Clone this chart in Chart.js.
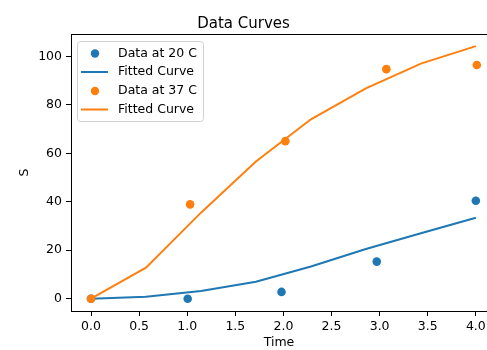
<!DOCTYPE html>
<html>
<head>
<meta charset="utf-8">
<script src="https://cdn.jsdelivr.net/npm/chart.js@4/dist/chart.umd.min.js"></script>
<style>
  html, body { margin: 0; padding: 0; background: #fff; }
  #wrap { width: 487px; height: 350px; }
</style>
</head>
<body>
<div id="wrap"><canvas id="curves"></canvas></div>
<script>
// measured data
const time20 = [0, 1.005, 1.98, 2.97, 4.0];
const data20 = [0, 0, 2.8, 15.3, 40.4];
const time37 = [0, 1.03, 2.02, 3.07, 4.01];
const data37 = [0, 38.9, 65, 94.7, 96.4];
const fitTime = [0, 0.571, 1.143, 1.714, 2.286, 2.857, 3.429, 4.0];
const fit20 = [0, 0.8, 3.2, 7.0, 13.3, 20.5, 27, 33.4];
const fit37 = [0, 12.8, 35.5, 56.6, 74, 86.8, 97, 104.2];
const xTicks = [0, 0.5, 1, 1.5, 2, 2.5, 3, 3.5, 4];
const yTicks = [0, 20, 40, 60, 80, 100];

const blue = '#1f77b4';
const orange = '#ff7f0e';
const fontFamily = '"DejaVu Sans", sans-serif';

function pairs(xs, ys) {
    return xs.map((x, i) => ({x: x, y: ys[i]}));
}

// top spine (matplotlib draws all four sides)
const frame = {
    id: 'frame',
    afterDraw(chart) {
        const ctx = chart.ctx;
        const a = chart.chartArea;
        ctx.save();
        ctx.strokeStyle = '#000';
        ctx.lineWidth = 1;
        ctx.beginPath();
        ctx.moveTo(a.left, a.top + 0.5);
        ctx.lineTo(a.right, a.top + 0.5);
        ctx.stroke();
        ctx.restore();
    }
};

// matplotlib-like legend box in the upper left
const boxLegend = {
    id: 'boxLegend',
    afterDraw(chart) {
        const ctx = chart.ctx;
        const a = chart.chartArea;
        const x0 = a.left + 6, y0 = a.top + 7;
        const w = 126, h = 80;
        ctx.save();
        ctx.fillStyle = 'rgba(255,255,255,0.8)';
        ctx.strokeStyle = '#d0d0d0';
        ctx.lineWidth = 1;
        ctx.beginPath();
        ctx.roundRect(x0 + 0.5, y0 + 0.5, w, h, 3);
        ctx.fill();
        ctx.stroke();
        ctx.font = '12.5px ' + fontFamily;
        ctx.textBaseline = 'middle';
        const rows = [12.5, 31, 50, 68.5];
        chart.data.datasets.forEach((ds, i) => {
            const cy = y0 + rows[i];
            if (ds.showLine) {
                ctx.strokeStyle = ds.borderColor;
                ctx.lineWidth = 2;
                ctx.beginPath();
                ctx.moveTo(x0 + 4, cy);
                ctx.lineTo(x0 + 31, cy);
                ctx.stroke();
            } else {
                ctx.fillStyle = ds.backgroundColor;
                ctx.beginPath();
                ctx.arc(x0 + 18, cy, 4.2, 0, Math.PI * 2);
                ctx.fill();
            }
            ctx.fillStyle = '#000';
            ctx.fillText(ds.label, x0 + 41, cy);
        });
        ctx.restore();
    }
};

const ctx = document.getElementById('curves');

new Chart(ctx, {
    type: 'scatter',
    data: {
        datasets: [
            {
                label: 'Data at 20 C',
                data: pairs(time20, data20),
                backgroundColor: blue,
                borderColor: blue,
                pointRadius: 4.3,
                pointBorderWidth: 0,
                order: 4
            },
            {
                label: 'Fitted Curve',
                data: pairs(fitTime, fit20),
                showLine: true,
                borderColor: blue,
                backgroundColor: blue,
                borderWidth: 2,
                pointRadius: 0,
                tension: 0,
                order: 3
            },
            {
                label: 'Data at 37 C',
                data: pairs(time37, data37),
                backgroundColor: orange,
                borderColor: orange,
                pointRadius: 4.3,
                pointBorderWidth: 0,
                order: 2
            },
            {
                label: 'Fitted Curve',
                data: pairs(fitTime, fit37),
                showLine: true,
                borderColor: orange,
                backgroundColor: orange,
                borderWidth: 2,
                pointRadius: 0,
                tension: 0,
                order: 1
            }
        ]
    },
    options: {
        responsive: true,
        maintainAspectRatio: false,
        animation: false,
        layout: { autoPadding: false, padding: { left: 0, right: 0, top: 0, bottom: 0 } },
        plugins: {
            legend: { display: false },
            tooltip: { enabled: false },
            title: {
                display: true,
                text: 'Data Curves',
                color: '#000',
                font: { family: fontFamily, size: 15, weight: 'normal' },
                padding: { top: 15, bottom: 1 }
            }
        },
        scales: {
            x: {
                type: 'linear',
                min: -0.208,
                max: 4.116,
                afterFit: function(scale) {
                    scale.height = 39;
                    scale.paddingLeft = 0;
                    scale.paddingRight = 0;
                },
                afterBuildTicks: function(scale) {
                    scale.ticks = xTicks.map(v => ({value: v}));
                },
                grid: { drawOnChartArea: false, drawTicks: true, tickLength: 5, color: '#000' },
                border: { display: true, color: '#000', width: 1 },
                ticks: {
                    color: '#000',
                    padding: 3,
                    maxRotation: 0,
                    font: { family: fontFamily, size: 12.5 },
                    callback: function(value) { return value.toFixed(1); }
                },
                title: {
                    display: true,
                    text: 'Time',
                    color: '#000',
                    font: { family: fontFamily, size: 12.5 },
                    padding: { top: 0, bottom: 0 }
                }
            },
            y: {
                type: 'linear',
                min: -5.07,
                max: 109.2,
                afterFit: function(scale) {
                    scale.width = 71;
                    scale.paddingTop = 0;
                    scale.paddingBottom = 0;
                },
                afterBuildTicks: function(scale) {
                    scale.ticks = yTicks.map(v => ({value: v}));
                },
                grid: { drawOnChartArea: false, drawTicks: true, tickLength: 5, color: '#000' },
                border: { display: true, color: '#000', width: 1 },
                ticks: {
                    color: '#000',
                    padding: 4,
                    font: { family: fontFamily, size: 12.5 }
                },
                title: {
                    display: true,
                    text: 'S',
                    color: '#000',
                    font: { family: fontFamily, size: 12.5 },
                    padding: { top: 17, bottom: 0 }
                }
            }
        }
    },
    plugins: [frame, boxLegend]
});
</script>
</body>
</html>
